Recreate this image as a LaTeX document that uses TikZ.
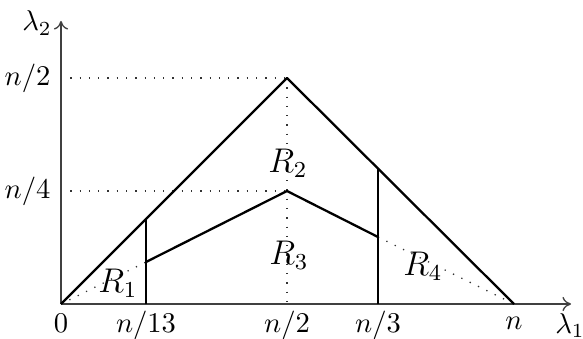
\documentclass[tikz,border=0pt]{standalone}
\usetikzlibrary{arrows.meta}
\begin{document}
\begin{tikzpicture}[x=0.35pt,y=0.35pt,
  axis/.style={draw=black!75,line width=0.45pt,-{To[length=3pt,width=5pt]}},
  region/.style={draw=black,line width=0.8pt,line join=round},
  guide/.style={draw=black!80,line width=0.45pt,dash pattern=on 0.45pt off 2.8pt},
  lbl/.style={inner sep=0pt},
  rlbl/.style={inner sep=0pt,font=\large}]
\useasboundingbox (0,0) rectangle (583,338);
% coordinates
\coordinate (O) at (61,34);
\coordinate (P) at (287,260);
\coordinate (N) at (514,34);
\coordinate (A0) at (146,34);
\coordinate (A1) at (146,119);
\coordinate (A2) at (146,76);
\coordinate (M) at (287,147);
\coordinate (B0) at (378,34);
\coordinate (B1) at (378,169);
\coordinate (B2) at (378,101);
\coordinate (Yh) at (61,260);
\coordinate (Yq) at (61,147);
\coordinate (Px) at (287,34);
\coordinate (Xend) at (571,34);
\coordinate (Yend) at (61,317);
% guides
\draw[guide] (Yh) -- (P);
\draw[guide] (Yq) -- (M);
\draw[guide] (P) -- (Px);
\draw[guide] (O) -- (A2);
\draw[guide] (B2) -- (N);
% axes
\draw[axis] (O) -- (Xend);
\draw[axis] (O) -- (Yend);
% regions
\draw[region] (O) -- (P) -- (N);
\draw[region] (A0) -- (A1);
\draw[region] (B0) -- (B1);
\draw[region] (A2) -- (M) -- (B2);
% labels
\node[lbl,anchor=base] (l0) at (61,6) {$0$};
\node[lbl,anchor=base] (l13) at (146,6) {$n/13$};
\node[lbl,anchor=base] (l2) at (287,6) {$n/2$};
\node[lbl,anchor=base] (l3) at (378,6) {$n/3$};
\node[lbl,anchor=base] (ln) at (514,9) {$n$};
\node[lbl,anchor=base] (lx) at (570,5) {$\lambda_1$};
\node[lbl,anchor=east] (lyh) at (51,260) {$n/2$};
\node[lbl,anchor=east] (lyq) at (51,147) {$n/4$};
\node[lbl] (ly) at (37,315) {$\lambda_2$};
\node[rlbl] (r1) at (118,55) {$R_1$};
\node[rlbl] (r2) at (288,175) {$R_2$};
\node[rlbl] (r3) at (289,83) {$R_3$};
\node[rlbl] (r4) at (423,72) {$R_4$};
\end{tikzpicture}
\end{document}
